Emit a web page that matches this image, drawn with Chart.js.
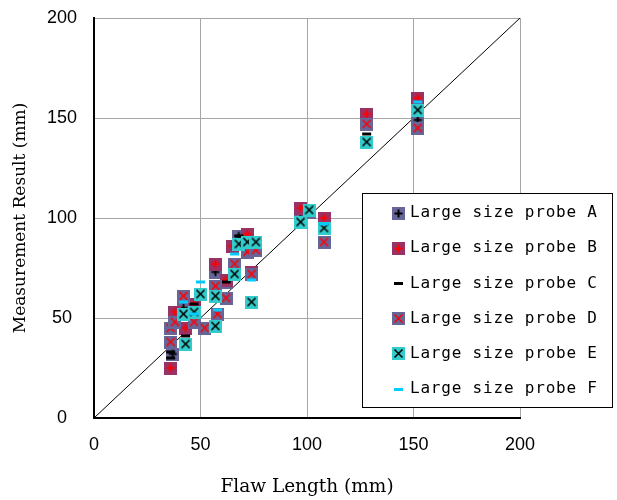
<!DOCTYPE html>
<html>
<head>
<meta charset="utf-8">
<script src="https://cdn.jsdelivr.net/npm/chart.js@4/dist/chart.umd.min.js"></script>
<style>
  html, body { margin: 0; padding: 0; background: #fff; }
  canvas { display: block; }
</style>
</head>
<body>
<canvas id="chart" width="617" height="500"></canvas>
<script>
const probeAX = [37, 42, 47, 57, 62, 68, 72, 97, 108, 128, 152];
const probeAY = [32, 55, 57, 73, 68, 91, 88, 103, 98, 150, 149];

const probeBX = [36, 38, 43, 47, 57, 62, 65, 72, 74, 97, 108, 128, 152];
const probeBY = [25, 53, 45, 57, 77, 69, 86, 92, 73, 105, 100, 152, 160];

const probeCX = [36, 36, 43, 47, 62, 68, 128];
const probeCY = [33, 30, 41, 57, 68, 91, 142];

const probeDX = [36, 38, 36, 42, 47, 52, 57, 58, 62, 66, 72, 76, 74, 101, 108, 128, 152];
const probeDY = [45, 48, 38, 61, 48, 45, 66, 52, 60, 77, 83, 84, 72, 103, 88, 147, 145];

const probeEX = [43, 42, 47, 50, 57, 57, 66, 68, 72, 76, 74, 97, 101, 108, 128, 152];
const probeEY = [37, 52, 53, 62, 61, 46, 72, 87, 88, 88, 58, 98, 104, 95, 138, 154];

const probeFX = [50, 42, 47, 58, 66, 74, 108, 152];
const probeFY = [68, 58, 52, 54, 82, 69, 97, 158];

const idealX = [0, 200];
const idealY = [0, 200];

const axisTicks = [0, 50, 100, 150, 200];

const pairs = (xs, ys) => xs.map((x, i) => ({ x, y: ys[i] }));

// Excel-like marker images: coloured square with a glyph on it.
function marker(fill, glyph, glyphColor) {
  const c = document.createElement("canvas");
  c.width = 13;
  c.height = 13;
  const g = c.getContext("2d");
  if (fill) {
    g.fillStyle = fill;
    g.fillRect(0, 0, 13, 13);
  }
  g.strokeStyle = glyphColor;
  g.lineWidth = 2;
  g.beginPath();
  if (glyph === "plus") {
    g.moveTo(2.5, 6.5); g.lineTo(10.5, 6.5);
    g.moveTo(6.5, 2.5); g.lineTo(6.5, 10.5);
  } else if (glyph === "cross") {
    g.lineWidth = 1.6;
    g.moveTo(2.5, 2.5); g.lineTo(10.5, 10.5);
    g.moveTo(10.5, 2.5); g.lineTo(2.5, 10.5);
  }
  g.stroke();
  if (glyph === "dash") {
    g.fillStyle = glyphColor;
    g.fillRect(2, 5, 9, 3);
  }
  return c;
}

const markers = {
  A: marker("#666699", "plus", "#000"),
  B: marker("#993366", "plus", "#ff0000"),
  C: marker(null, "dash", "#000"),
  D: marker("#666699", "cross", "#ff0000"),
  E: marker("#33cccc", "cross", "#000"),
  F: marker(null, "dash", "#00ccff"),
};

function probe(letter, xs, ys, order) {
  return {
    type: "scatter",
    label: `Large size probe ${letter}`,
    data: pairs(xs, ys),
    pointStyle: markers[letter],
    pointRadius: 7,
    order,
  };
}

// Legend box drawn by hand so it can sit inside the plot like the original.
const boxLegend = {
  id: "boxLegend",
  afterDraw(chart) {
    const ctx = chart.ctx;
    const left = 362, top = 193, w = 250, h = 214;
    ctx.save();
    ctx.fillStyle = "#fff";
    ctx.fillRect(left, top, w, h);
    ctx.strokeStyle = "#000";
    ctx.lineWidth = 1;
    ctx.strokeRect(left + 0.5, top + 0.5, w, h);
    ctx.font = "16px 'DejaVu Sans Mono'";
    ctx.letterSpacing = "0.8px";
    ctx.fillStyle = "#000";
    ctx.textBaseline = "middle";
    const items = chart.data.datasets.filter((d) => d.type === "scatter");
    items.forEach((d, i) => {
      const y = top + 20 + i * 35.2;
      ctx.drawImage(d.pointStyle, 392, Math.round(y - 6.5));
      ctx.fillText(d.label, 410, y);
    });
    ctx.restore();
  },
};

const gridColor = (c) => (c.tick.value === 0 ? "rgba(0,0,0,0)" : "#a6a6a6");
const tickFont = { size: 18, family: "'Liberation Sans'" };

new Chart(document.getElementById("chart"), {
  data: {
    datasets: [
      probe("A", probeAX, probeAY, 5),
      probe("B", probeBX, probeBY, 4),
      probe("C", probeCX, probeCY, 3),
      probe("D", probeDX, probeDY, 2),
      probe("E", probeEX, probeEY, 1),
      probe("F", probeFX, probeFY, 0),
      {
        type: "line",
        label: "ideal",
        data: pairs(idealX, idealY),
        borderColor: "#000",
        borderWidth: 1,
        pointRadius: 0,
        order: 10,
      },
    ],
  },
  plugins: [boxLegend],
  options: {
    responsive: false,
    animation: false,
    layout: { padding: { top: 18, right: 97, left: 0, bottom: 0 } },
    plugins: {
      legend: { display: false },
      tooltip: { enabled: false },
    },
    scales: {
      x: {
        type: "linear",
        min: 0,
        max: 200,
        afterFit: (s) => {
          s.height = 82;
          s.paddingLeft = 0;
          s.paddingRight = 0;
        },
        afterBuildTicks: (s) => { s.ticks = axisTicks.map((v) => ({ value: v })); },
        ticks: { color: "#000", font: tickFont, padding: 16 },
        grid: { color: gridColor, drawTicks: false },
        border: { color: "#000", width: 2 },
        title: {
          display: true,
          text: "Flaw Length (mm)",
          color: "#000",
          font: { size: 18.5, family: "'DejaVu Serif'" },
          padding: { top: 0, bottom: 2 },
        },
      },
      y: {
        type: "linear",
        min: 0,
        max: 200,
        afterFit: (s) => {
          s.width = 94;
          s.paddingTop = 0;
          s.paddingBottom = 0;
        },
        afterBuildTicks: (s) => { s.ticks = axisTicks.map((v) => ({ value: v })); },
        ticks: { color: "#000", font: tickFont, padding: 17, crossAlign: "center" },
        grid: { color: gridColor, drawTicks: false },
        border: { color: "#000", width: 2 },
        title: {
          display: true,
          text: "Measurement Result (mm)",
          color: "#000",
          font: { size: 17, family: "'DejaVu Serif'" },
          padding: { top: 10, bottom: 0 },
        },
      },
    },
  },
});
</script>
</body>
</html>
